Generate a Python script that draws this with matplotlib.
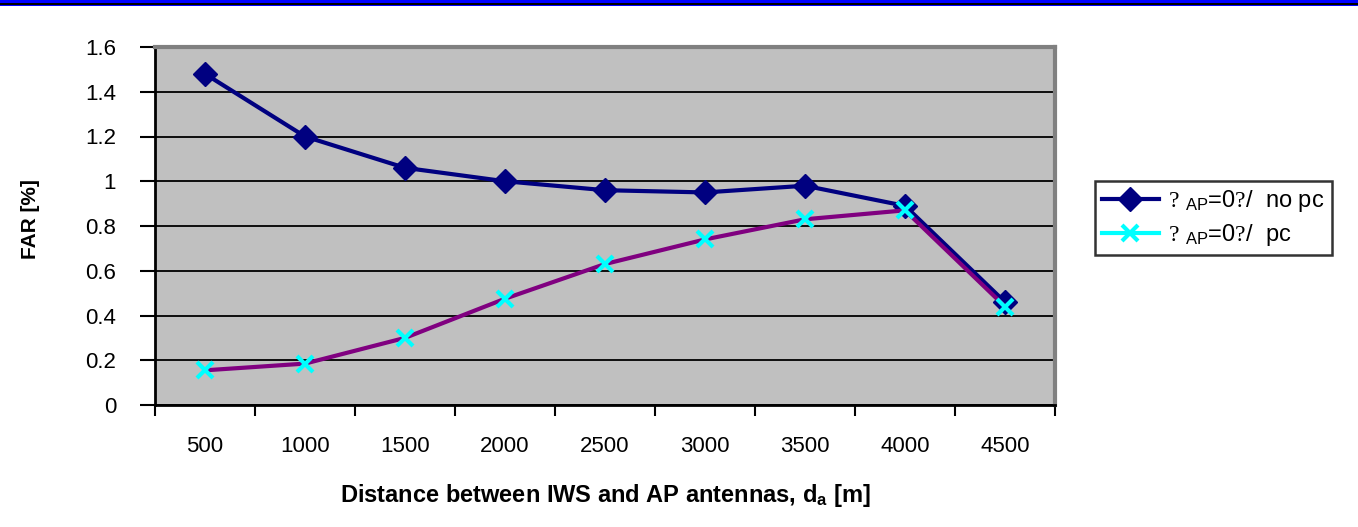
import matplotlib
matplotlib.use("Agg")
import matplotlib.pyplot as plt
from matplotlib.lines import Line2D
from matplotlib.patches import Rectangle
import numpy as np

plt.rcParams['font.family'] = ['Liberation Sans', 'DejaVu Sans']
plt.rcParams['mathtext.fontset'] = 'custom'
plt.rcParams['mathtext.rm'] = 'Liberation Serif'

categories = ["500", "1000", "1500", "2000", "2500", "3000", "3500", "4000", "4500"]
far_no_pc = [1.48, 1.20, 1.06, 1.00, 0.96, 0.95, 0.98, 0.89, 0.46]
far_pc = [0.155, 0.185, 0.30, 0.475, 0.63, 0.74, 0.83, 0.87, 0.44]
y_ticks = [0, 0.2, 0.4, 0.6, 0.8, 1.0, 1.2, 1.4, 1.6]
y_tick_labels = ["0", "0.2", "0.4", "0.6", "0.8", "1", "1.2", "1.4", "1.6"]
label_no_pc = r"$\mathrm{?}$ $\mathregular{_{AP}}$=0$\mathrm{?}$/  no pc"
label_pc = r"$\mathrm{?}$ $\mathregular{_{AP}}$=0$\mathrm{?}$/  pc"

W, H = 1358, 527
fig = plt.figure(figsize=(W / 100, H / 100), dpi=100)
ax = fig.add_axes([155 / W, 1 - 405 / H, 900 / W, 358 / H])

# top decorative bar
fig.patches.append(Rectangle((0, 1 - 6 / H), 1, 6 / H, transform=fig.transFigure,
                             facecolor='#0000FF', edgecolor='none'))
fig.patches.append(Rectangle((0, 1 - 5 / H), 1, 2 / H, transform=fig.transFigure,
                             facecolor='black', edgecolor='none'))

ax.set_facecolor('#C0C0C0')
x = np.arange(len(categories))

ax.plot(x, far_no_pc, color='#000080', lw=3, marker='D', markersize=12.5,
        markerfacecolor='#000080', markeredgecolor='#000080', zorder=3)
ax.plot(x, far_pc, color='#800080', lw=3, marker='x', markersize=11,
        markeredgecolor='#00FFFF', markeredgewidth=3, zorder=4)

ax.set_xlim(-0.5, len(categories) - 0.5)
ax.set_ylim(0, 1.6)

ax.set_yticks(y_ticks)
ax.set_yticklabels(y_tick_labels, fontsize=16)
ax.yaxis.grid(True, color='black', lw=1.3)
ax.set_axisbelow(True)

ax.set_xticks(np.arange(-0.5, len(categories)), labels=[""] * (len(categories) + 1))
ax.set_xticks(x, labels=categories, minor=True)
ax.tick_params(axis='x', which='major', direction='out', length=8, width=1.5)
ax.tick_params(axis='x', which='minor', length=0, pad=22, labelsize=16)
ax.tick_params(axis='y', direction='out', length=11, width=1.5, pad=17)

for s in ['top', 'right']:
    ax.spines[s].set_color('#808080')
    ax.spines[s].set_linewidth(3)
for s in ['left', 'bottom']:
    ax.spines[s].set_color('black')
    ax.spines[s].set_linewidth(2)

ax.set_xlabel("Distance between IWS and AP antennas, d$\\mathregular{_a}$ [m]",
              fontsize=17, fontweight='bold', labelpad=18)
fig.text(30 / W, 1 - 219 / H, "FAR [%]", rotation=90, fontsize=15, fontweight='bold',
         ha='center', va='center')

handles = [
    Line2D([], [], color='#000080', lw=3, marker='D', markersize=12.5),
    Line2D([], [], color='#00FFFF', lw=3, marker='x', markersize=11, markeredgewidth=3),
]
leg = fig.legend(handles, [label_no_pc, label_pc], loc='upper left',
                 bbox_to_anchor=(1095 / W, 1 - 181 / H), bbox_transform=fig.transFigure,
                 fontsize=17, frameon=True, fancybox=False, borderaxespad=0,
                 handlelength=2.4, borderpad=0.3, labelspacing=0.35, handletextpad=0.4)
leg.get_frame().set_edgecolor('black')
leg.get_frame().set_linewidth(1.8)

fig.savefig("out.png", dpi=100)
